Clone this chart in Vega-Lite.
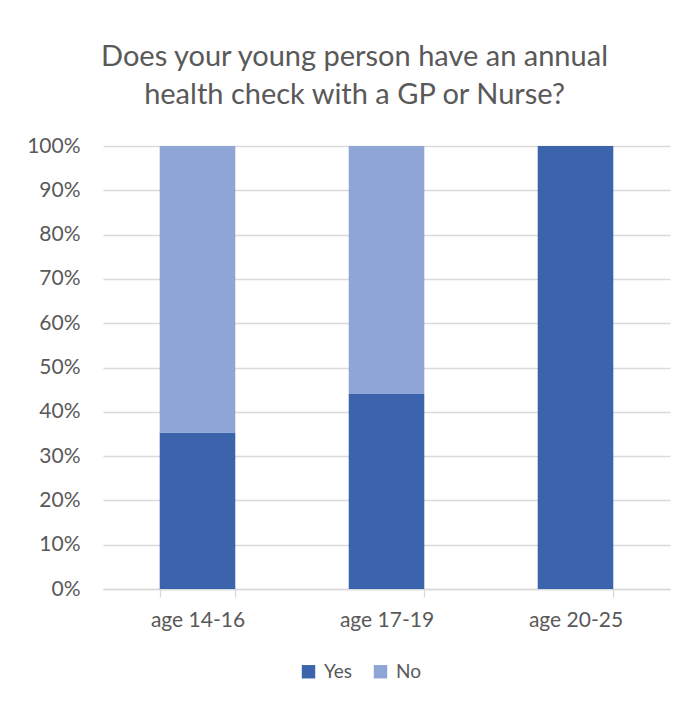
{
  "$schema": "https://vega.github.io/schema/vega-lite/v6.json",
  "width": 567,
  "height": 443,
  "autosize": {"type": "none"},
  "padding": {"left": 103, "top": 146, "right": 25, "bottom": 113},
  "background": "white",
  "title": {
    "text": ["Does your young person have an annual", "health check with a GP or Nurse?"],
    "font": "Lato",
    "fontSize": 29,
    "fontWeight": "normal",
    "color": "#595959",
    "anchor": "middle",
    "dx": -32,
    "offset": 25,
    "lineHeight": 38
  },
  "data": {
    "values": [
      {"age": "age 14-16", "answer": "Yes", "share": 0.353},
      {"age": "age 14-16", "answer": "No", "share": 0.647},
      {"age": "age 17-19", "answer": "Yes", "share": 0.44},
      {"age": "age 17-19", "answer": "No", "share": 0.56},
      {"age": "age 20-25", "answer": "Yes", "share": 1.0},
      {"age": "age 20-25", "answer": "No", "share": 0.0}
    ]
  },
  "mark": {"type": "bar"},
  "encoding": {
    "x": {
      "field": "age",
      "type": "nominal",
      "title": null,
      "scale": {"paddingInner": 0.6, "paddingOuter": 0.3},
      "axis": {
        "labelAngle": 0,
        "labelFont": "Lato",
        "labelFontSize": 21,
        "labelColor": "#595959",
        "labelPadding": 12,
        "domainColor": "#D9D9D9",
        "domainWidth": 1.3,
        "tickColor": "#D9D9D9",
        "tickWidth": 1.3,
        "tickBand": "extent",
        "tickSize": 8
      }
    },
    "y": {
      "field": "share",
      "type": "quantitative",
      "stack": "zero",
      "title": null,
      "scale": {"domain": [0, 1]},
      "axis": {
        "format": ".0%",
        "values": [0, 0.1, 0.2, 0.3, 0.4, 0.5, 0.6, 0.7, 0.8, 0.9, 1.0],
        "labelFont": "Lato",
        "labelFontSize": 21,
        "labelColor": "#595959",
        "labelPadding": 23,
        "domain": false,
        "ticks": false,
        "gridColor": "#D9D9D9",
        "gridWidth": 1.3
      }
    },
    "color": {
      "field": "answer",
      "type": "nominal",
      "sort": ["Yes", "No"],
      "scale": {"domain": ["Yes", "No"], "range": ["#3C64AD", "#8FA5D5"]},
      "legend": {
        "title": null,
        "orient": "none",
        "direction": "horizontal",
        "legendX": 196,
        "legendY": 516,
        "symbolType": "square",
        "symbolSize": 180,
        "symbolStrokeWidth": 0,
        "labelFont": "Lato",
        "labelFontSize": 19,
        "labelColor": "#595959",
        "columnPadding": 18,
        "labelOffset": 6
      }
    },
    "order": {"field": "answer", "sort": "descending"}
  },
  "config": {"view": {"stroke": null}}
}
